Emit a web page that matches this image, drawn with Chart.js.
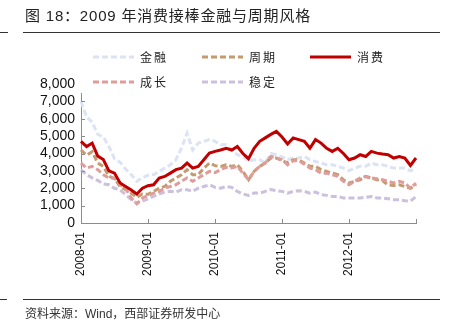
<!DOCTYPE html>
<html>
<head>
<meta charset="utf-8">
<script src="https://cdn.jsdelivr.net/npm/chart.js@4/dist/chart.umd.min.js"></script>
<style>
html,body{margin:0;padding:0;background:#fff;}
#wrap{position:relative;width:453px;height:330px;overflow:hidden;background:#fff;}
#c{position:absolute;left:0;top:0;}
.title{position:absolute;left:25px;top:7px;font-size:15px;line-height:18px;font-family:"Liberation Sans","Noto Sans CJK SC",sans-serif;color:#222;white-space:nowrap;letter-spacing:0.8px;}
.src{position:absolute;left:25px;top:307px;font-size:12px;line-height:15px;font-family:"Liberation Sans","Noto Sans CJK SC",sans-serif;color:#333;white-space:nowrap;}
.rule{position:absolute;height:1px;background:#333;}
</style>
</head>
<body>
<div id="wrap">
  <canvas id="c" width="453" height="330"></canvas>
  <div class="title">图 18：2009 年消费接棒金融与周期风格</div>
  <div class="rule" style="left:0;width:8px;top:32px;"></div>
  <div class="rule" style="left:23px;width:417px;top:32px;"></div>
  <div class="rule" style="left:0;width:7px;top:299px;"></div>
  <div class="rule" style="left:23px;width:417px;top:299px;"></div>
  <div class="src">资料来源：Wind，西部证券研发中心</div>
</div>
<script>
// ---- data (monthly, 2008-01 .. 2013-01) ----
const years = ['2008', '2009', '2010', '2011', '2012'];
const tickLabels = ['2008-01', '2009-01', '2010-01', '2011-01', '2012-01'];
const seriesNames = ['金融', '周期', '消费', '成长', '稳定'];

const finance = [7000, 6100, 5800, 5100, 4950, 4400, 3700, 3500, 3100, 2780, 2400, 2600,
  2750, 2780, 2970, 3160, 3350, 3640, 4310, 5170, 4200, 4600, 4700, 4800,
  4700, 4500, 4500, 4200, 3930, 3830, 3540, 3640, 3640, 3450, 4000, 3930,
  3800, 3640, 3740, 3740, 3830, 3640, 3540, 3450, 3350, 3350, 3260, 3160,
  3020, 3160, 3260, 3260, 3450, 3350, 3350, 3260, 3160, 3160, 3160, 3000, 3160];

const cyclical = [4200, 3900, 4100, 3450, 3260, 2700, 2550, 2100, 1920, 1720, 1480, 1670,
  1650, 1820, 2000, 2100, 2400, 2590, 2780, 3070, 2780, 2780, 3160, 3450,
  3300, 3260, 3350, 3260, 3350, 2970, 2490, 2970, 3260, 3450, 3740, 3740,
  3600, 3450, 3640, 3640, 3450, 3260, 3260, 3070, 2970, 2870, 2780, 2490,
  2300, 2400, 2490, 2680, 2590, 2490, 2430, 2200, 2160, 2200, 2100, 2000, 2200];

const consumer = [4700, 4400, 4600, 3850, 3650, 3000, 2870, 2300, 2100, 1900, 1670, 2000,
  2150, 2200, 2590, 2680, 2870, 3070, 3160, 3450, 3160, 3260, 3640, 4020,
  4120, 4200, 4300, 4200, 4400, 4000, 3700, 4300, 4700, 4900, 5100, 5270,
  4950, 4550, 4900, 4800, 4700, 4300, 4800, 4600, 4300, 4120, 4300, 4000,
  3640, 3740, 3930, 3830, 4120, 4020, 3970, 3930, 3740, 3830, 3740, 3310, 3740];

const growth = [3450, 3160, 3260, 3070, 2780, 2590, 2590, 2200, 2000, 1440, 1100, 1440,
  1580, 1720, 1820, 2000, 2100, 2200, 2400, 2590, 2400, 2590, 2780, 2970,
  2900, 3070, 3200, 3160, 3260, 2870, 2490, 2970, 3260, 3450, 3830, 3740,
  3640, 3350, 3580, 3580, 3390, 3160, 3070, 2870, 2870, 2780, 2680, 2400,
  2200, 2400, 2590, 2680, 2590, 2550, 2490, 2400, 2300, 2400, 2300, 2000, 2300];

const stable = [3070, 2780, 2600, 2450, 2250, 2200, 2000, 1900, 1630, 1340, 1150, 1250,
  1390, 1530, 1670, 1780, 1820, 1780, 1920, 1920, 1820, 2000, 2100, 2200,
  2050, 2000, 2100, 2050, 1820, 1670, 1590, 1720, 1720, 1820, 1920, 1860,
  1820, 1720, 1820, 1860, 1820, 1720, 1780, 1630, 1590, 1530, 1530, 1440,
  1440, 1440, 1440, 1480, 1530, 1440, 1440, 1400, 1340, 1340, 1280, 1250, 1530];

// month categories
const categories = [];
years.forEach(y => { for (let m = 1; m <= 12; m++) categories.push(y + '-' + String(m).padStart(2, '0')); });
categories.push('2013-01');

const colors = {
  '金融': '#dbe3f4',
  '周期': '#c39b6e',
  '消费': '#c00000',
  '成长': '#e09c9a',
  '稳定': '#cbc0dd'
};

function ds(label, data, order, dashed) {
  return {
    label, data, order,
    borderColor: colors[label],
    backgroundColor: colors[label],
    borderWidth: 3,
    borderDash: dashed ? [6, 3] : [],
    pointRadius: 0,
    tension: 0,
    fill: false
  };
}

const legendItems = [
  { name: '金融', x: 93, y: 57, dashed: true },
  { name: '周期', x: 202, y: 57, dashed: true },
  { name: '消费', x: 310, y: 57, dashed: false },
  { name: '成长', x: 93, y: 82, dashed: true },
  { name: '稳定', x: 202, y: 82, dashed: true }
];

const customDraw = {
  id: 'customDraw',
  afterDraw(chart) {
    const ctx = chart.ctx;
    const xs = chart.scales.x, ys = chart.scales.y;
    ctx.save();
    // inward tick marks
    ctx.strokeStyle = '#8c8c8c';
    ctx.lineWidth = 1;
    ctx.beginPath();
    for (let i = 0; i < categories.length; i += 12) {
      const px = Math.round(xs.getPixelForValue(i)) + 0.5;
      ctx.moveTo(px, ys.bottom);
      ctx.lineTo(px, ys.bottom - 4);
    }
    for (let v = 1000; v <= 8000; v += 1000) {
      const py = Math.round(ys.getPixelForValue(v)) + 0.5;
      ctx.moveTo(xs.left, py);
      ctx.lineTo(xs.left + 4, py);
    }
    ctx.stroke();
    // legend box (white) over top of plot
    ctx.fillStyle = '#fff';
    ctx.fillRect(78, 38, 370, 55);
    // legend items
    ctx.font = '12px "Noto Sans CJK SC", sans-serif';
    ctx.textBaseline = 'middle';
    ctx.textAlign = 'left';
    legendItems.forEach(it => {
      ctx.strokeStyle = colors[it.name];
      ctx.lineWidth = 3;
      ctx.setLineDash(it.dashed ? [6, 3] : []);
      ctx.beginPath();
      ctx.moveTo(it.x, it.y);
      ctx.lineTo(it.x + 41, it.y);
      ctx.stroke();
      ctx.setLineDash([]);
      ctx.fillStyle = '#222';
      const chars = Array.from(it.name);
      chars.forEach((ch, k) => ctx.fillText(ch, it.x + 47 + k * 14, it.y));
    });
    ctx.restore();
  }
};

new Chart(document.getElementById('c'), {
  type: 'line',
  data: {
    labels: categories,
    datasets: [
      ds('消费', consumer, 0, false),
      ds('成长', growth, 1, true),
      ds('周期', cyclical, 2, true),
      ds('金融', finance, 3, true),
      ds('稳定', stable, 4, true)
    ]
  },
  options: {
    responsive: false,
    animation: false,
    devicePixelRatio: 1,
    layout: { padding: { left: 0, right: 37, top: 84, bottom: 0 } },
    plugins: { legend: { display: false }, tooltip: { enabled: false } },
    scales: {
      x: {
        type: 'category',
        offset: false,
        grid: { display: true, drawOnChartArea: false, drawTicks: false, color: 'rgba(0,0,0,0)' },
        border: { display: true, color: '#8c8c8c', width: 1 },
        ticks: {
          autoSkip: false,
          maxRotation: 90,
          minRotation: 90,
          padding: 9,
          color: '#111',
          font: { family: '"Liberation Sans", Arial, sans-serif', size: 12 },
          callback: function (val, idx) {
            const lab = categories[idx];
            if (tickLabels.includes(lab)) return lab;
            return null;
          }
        },
        afterFit(scale) { scale.height = 107; }
      },
      y: {
        min: 0, max: 8000,
        grid: { display: true, drawOnChartArea: false, drawTicks: false, color: 'rgba(0,0,0,0)' },
        border: { display: true, color: '#8c8c8c', width: 1 },
        ticks: {
          stepSize: 1000,
          autoSkip: false,
          padding: 6,
          color: '#111',
          font: { family: '"Liberation Sans", Arial, sans-serif', size: 14 },
          callback: v => v.toLocaleString('en-US')
        },
        afterFit(scale) { scale.width = 81; }
      }
    }
  },
  plugins: [customDraw]
});
</script>
</body>
</html>
